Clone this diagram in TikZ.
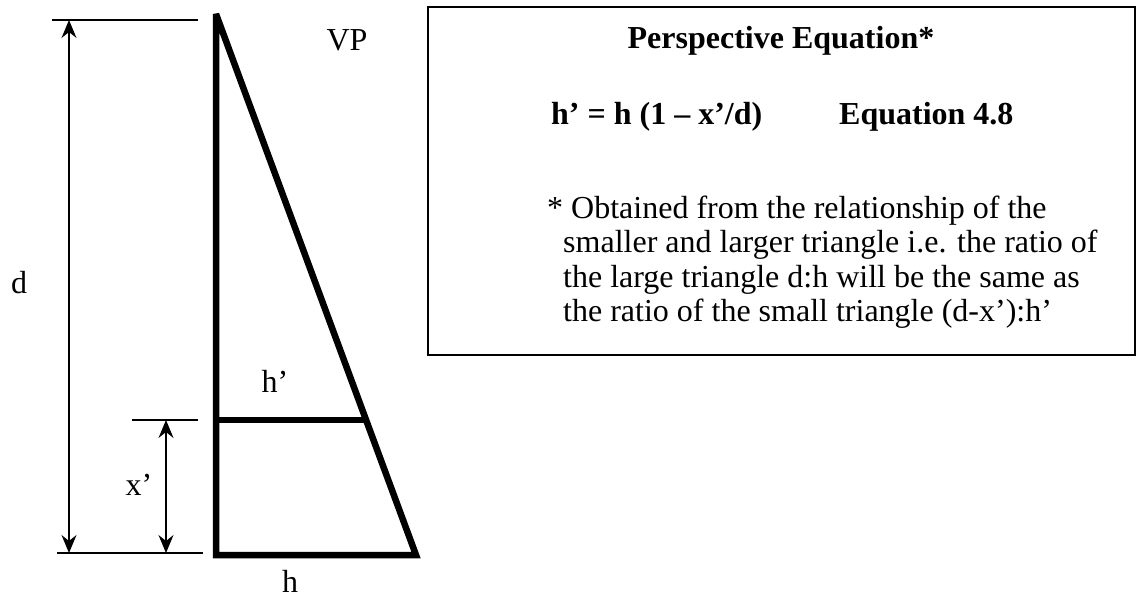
\documentclass[tikz,border=0pt]{standalone}
\usepackage{fontspec}
\setmainfont{Liberation Serif}
\usetikzlibrary{arrows.meta}
\begin{document}
\begin{tikzpicture}[x=1pt,y=-1pt,
  extline/.style={line width=1.5pt},
  thickline/.style={line width=6.5pt},
  dimline/.style={line width=1.5pt,
    {Stealth[length=18pt,width=15pt,inset=6pt]}-{Stealth[length=18pt,width=15pt,inset=6pt]}},
  lbl/.style={font=\fontsize{32}{36}\selectfont, inner sep=0pt, anchor=base},
  bodytxt/.style={font=\fontsize{32}{36}\selectfont, inner sep=0pt, anchor=base west},
  boldtxt/.style={font=\fontsize{32}{36}\selectfont\bfseries, inner sep=0pt},
  framebox/.style={draw, line width=1.8pt}]
\useasboundingbox (0,0) rectangle (1138,600);

% dimension extension lines
\coordinate (dtopL) at (52,20);   \coordinate (dtopR) at (198,20);
\coordinate (dbotL) at (57,553);  \coordinate (dbotR) at (203,553);
\coordinate (xtopL) at (132,420); \coordinate (xtopR) at (198,420);
\draw[extline] (dtopL) -- (dtopR);
\draw[extline] (dbotL) -- (dbotR);
\draw[extline] (xtopL) -- (xtopR);

% dimension arrows
\coordinate (da) at (69,20);  \coordinate (db) at (69,553);
\coordinate (xa) at (166,420); \coordinate (xb) at (166,553);
\draw[dimline] (da) -- (db);
\draw[dimline] (xa) -- (xb);

% triangle
\coordinate (apex) at (216,14);
\coordinate (base) at (216,555);
\coordinate (foot) at (416,555);
\coordinate (hl) at (216,420);
\coordinate (hr) at (366,420);
\draw[thickline, line join=miter, miter limit=3] (apex) -- (base) -- (foot) -- cycle;
\draw[thickline] (hl) -- (hr);

% labels
\node[lbl] (d) at (19,293) {d};
\node[lbl] (vp) at (347,50) {VP};
\node[lbl] (hp) at (275,392) {h’};
\node[lbl] (xp) at (139,495) {x’};
\node[lbl] (h) at (290,592) {h};

% equation box
\draw[framebox] (428,7) rectangle (1135,355);
\node[boldtxt, anchor=base] (title) at (781,48) {Perspective Equation*};
\node[boldtxt, anchor=base west] (eq) at (551,124) {h’ = h (1 – x’/d)};
\node[boldtxt, anchor=base west] (eqn) at (839,124) {Equation 4.8};
\node[bodytxt] (l1) at (547,218) {* Obtained from the relationship of the};
\node[bodytxt] (l2) at (563,252.5) {smaller and larger triangle i.e. the ratio of};
\node[bodytxt] (l3) at (563,287) {the large triangle d:h will be the same as};
\node[bodytxt] (l4) at (563,321.5) {the ratio of the small triangle (d-x’):h’};
\end{tikzpicture}
\end{document}
